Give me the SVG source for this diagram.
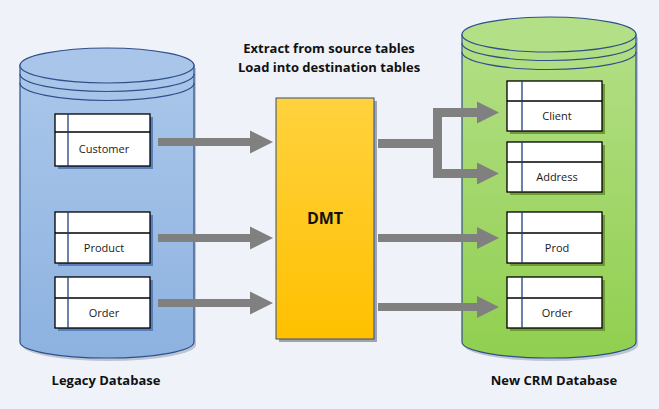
<svg xmlns="http://www.w3.org/2000/svg" width="659" height="409" viewBox="0 0 659 409">
<defs>
<linearGradient id="gBlue" x1="0" y1="0" x2="0" y2="1">
<stop offset="0" stop-color="#aac7ea"/><stop offset="1" stop-color="#8db2e0"/>
</linearGradient>
<linearGradient id="gGreen" x1="0" y1="0" x2="0" y2="1">
<stop offset="0" stop-color="#b3df86"/><stop offset="1" stop-color="#90cf4f"/>
</linearGradient>
<linearGradient id="gYellow" x1="0" y1="0" x2="0" y2="1">
<stop offset="0" stop-color="#ffd23e"/><stop offset="1" stop-color="#ffc000"/>
</linearGradient>
<style>
.cyl{stroke:#2f4f8a;stroke-width:1.2}
.arc{fill:none;stroke:#2f4f8a;stroke-width:1.2}
.tbl{fill:#fff;stroke:#000;stroke-width:1.3}
.div{stroke:#000;stroke-width:1.3}
.vl{stroke:#1f3f7a;stroke-width:1.3}
.shB{fill:#5a7fb8}
.shG{fill:#6f9a35}
.lbl{font-family:"Open Sans","Noto Sans",sans-serif;font-size:11px;fill:#1a1a1a;text-anchor:middle}
.ttl{font-family:"Open Sans","Noto Sans",sans-serif;font-size:13px;font-weight:bold;fill:#111;text-anchor:middle}
.arr{fill:#808080}
</style>
</defs>
<rect width="659" height="409" fill="#eff3f9"/>

<g id="legacy-db">
<path d="M196,68 V345 A87,16 0 0 1 22,345 V68 Z" fill="#9aa6b8" opacity="0.6"/>
<path class="cyl" d="M20,65 V342 A87,16 0 0 0 194,342 V65 Z" fill="url(#gBlue)"/>
<ellipse class="cyl" cx="107" cy="65.5" rx="87" ry="17.5" fill="#a9c5ea"/>
<path class="arc" d="M20,74 A87,17.5 0 0 0 194,74"/>
<path class="arc" d="M20,83 A87,17.5 0 0 0 194,83"/>
<text class="ttl" x="106" y="385">Legacy Database</text>
</g>

<g id="crm-db">
<path d="M638,37 V345 A87,16 0 0 1 464,345 V37 Z" fill="#9aa6b8" opacity="0.6"/>
<path class="cyl" d="M462,34.5 V342 A87,16 0 0 0 636,342 V34.5 Z" fill="url(#gGreen)"/>
<ellipse class="cyl" cx="549" cy="34.5" rx="87" ry="17.5" fill="#b3df86"/>
<path class="arc" d="M462,43 A87,17.5 0 0 0 636,43"/>
<path class="arc" d="M462,52 A87,17.5 0 0 0 636,52"/>
<text class="ttl" x="554" y="385">New CRM Database</text>
</g>

<g id="customer">
<rect class="shB" x="58" y="117" width="95" height="52"/>
<rect class="tbl" x="55" y="114" width="95" height="52"/>
<line class="div" x1="55" y1="132" x2="150" y2="132"/>
<line class="vl" x1="68" y1="114" x2="68" y2="166"/>
<text class="lbl" x="104" y="153">Customer</text>
</g>
<g id="product">
<rect class="shB" x="58" y="215" width="95" height="51"/>
<rect class="tbl" x="55" y="212" width="95" height="51"/>
<line class="div" x1="55" y1="233" x2="150" y2="233"/>
<line class="vl" x1="68" y1="212" x2="68" y2="263"/>
<text class="lbl" x="104" y="252">Product</text>
</g>
<g id="order-src">
<rect class="shB" x="58" y="280" width="95" height="51"/>
<rect class="tbl" x="55" y="277" width="95" height="51"/>
<line class="div" x1="55" y1="298" x2="150" y2="298"/>
<line class="vl" x1="68" y1="277" x2="68" y2="328"/>
<text class="lbl" x="104" y="317">Order</text>
</g>

<g id="client">
<rect class="shG" x="510" y="84" width="95" height="50"/>
<rect class="tbl" x="507" y="81" width="95" height="50"/>
<line class="div" x1="507" y1="101" x2="602" y2="101"/>
<line class="vl" x1="522" y1="81" x2="522" y2="131"/>
<text class="lbl" x="557" y="120">Client</text>
</g>
<g id="address">
<rect class="shG" x="510" y="145" width="95" height="50"/>
<rect class="tbl" x="507" y="142" width="95" height="50"/>
<line class="div" x1="507" y1="162" x2="602" y2="162"/>
<line class="vl" x1="522" y1="142" x2="522" y2="192"/>
<text class="lbl" x="557" y="181">Address</text>
</g>
<g id="prod">
<rect class="shG" x="510" y="215" width="95" height="51"/>
<rect class="tbl" x="507" y="212" width="95" height="51"/>
<line class="div" x1="507" y1="233" x2="602" y2="233"/>
<line class="vl" x1="522" y1="212" x2="522" y2="263"/>
<text class="lbl" x="557" y="252">Prod</text>
</g>
<g id="order-dst">
<rect class="shG" x="510" y="280" width="95" height="51"/>
<rect class="tbl" x="507" y="277" width="95" height="51"/>
<line class="div" x1="507" y1="298" x2="602" y2="298"/>
<line class="vl" x1="522" y1="277" x2="522" y2="328"/>
<text class="lbl" x="557" y="317">Order</text>
</g>

<g id="dmt">
<rect x="279" y="101" width="98" height="241" fill="#a0a4aa"/>
<rect x="276" y="98" width="98" height="241" fill="url(#gYellow)" stroke="#2f4f8a" stroke-width="1"/>
<text class="ttl" x="325" y="224" style="font-size:16px">DMT</text>
</g>

<g id="title">
<text class="ttl" x="329" y="53">Extract from source tables</text>
<text class="ttl" x="329" y="72">Load into destination tables</text>
</g>

<g id="connectors">
<polygon class="arr" points="158,138 250,138 250,130.5 273,142 250,153.5 250,146 158,146"/>
<polygon class="arr" points="158,234 250,234 250,226.5 273,238 250,249.5 250,242 158,242"/>
<polygon class="arr" points="158,299 250,299 250,291.5 273,303 250,314.5 250,307 158,307"/>
<polygon class="arr" points="378,139 433,139 433,108 477,108 477,101.5 499,112.5 477,123.5 477,117 442,117 442,169 477,169 477,162.5 499,173.5 477,184.5 477,178 433,178 433,148 378,148"/>
<polygon class="arr" points="378,234 477,234 477,227 499,238 477,249 477,242 378,242"/>
<polygon class="arr" points="378,303 477,303 477,296 499,307 477,318 477,311 378,311"/>
</g>
</svg>
